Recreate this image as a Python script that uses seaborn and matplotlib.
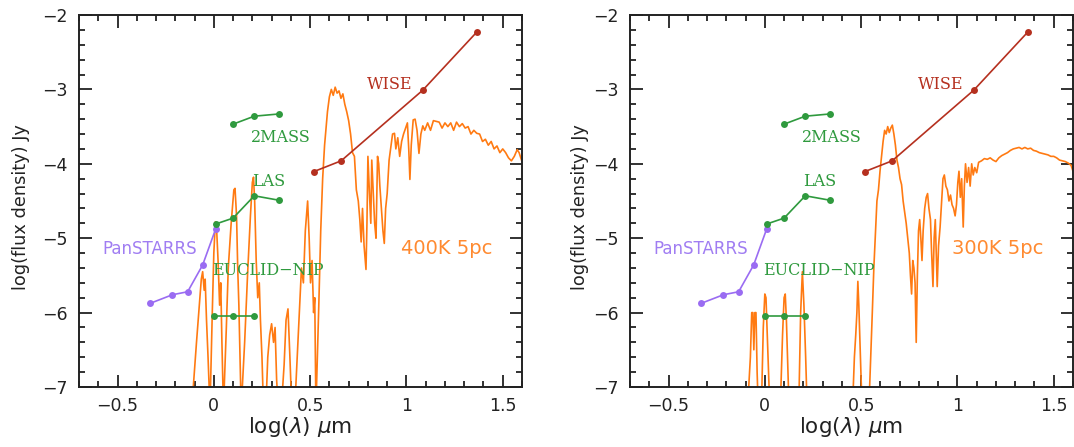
import numpy as np
import pandas as pd
import matplotlib
matplotlib.use("Agg")
import matplotlib.pyplot as plt
import seaborn as sns

# ---------------- data ----------------
pan_x = [-0.33, -0.215, -0.136, -0.058, 0.009]
pan_y = [-5.875, -5.76, -5.72, -5.36, -4.88]

las_x = [0.009, 0.10, 0.21, 0.339]
las_y = [-4.81, -4.73, -4.43, -4.49]

tmass_x = [0.097, 0.21, 0.339]
tmass_y = [-3.47, -3.36, -3.33]

euclid_x = [0.0, 0.10, 0.21]
euclid_y = [-6.04, -6.04, -6.04]

wise_x = [0.518, 0.661, 1.085, 1.365]
wise_y = [-4.106, -3.96, -3.01, -2.23]

# 400 K model spectrum (left panel)
spec400_x = [-0.115, -0.09, -0.075, -0.065, -0.058, -0.05, -0.045, -0.038, -0.03, -0.02,
             -0.008, 0.0, 0.008, 0.014, 0.022, 0.03, 0.036, 0.042, 0.05, 0.065,
             0.075, 0.09, 0.104, 0.11, 0.118, 0.124, 0.13, 0.135, 0.142, 0.16,
             0.175, 0.19, 0.2, 0.206, 0.212, 0.22, 0.228, 0.236, 0.242, 0.25,
             0.258, 0.27, 0.28, 0.29, 0.3, 0.31, 0.318, 0.326, 0.335, 0.35,
             0.365, 0.375, 0.385, 0.395, 0.405, 0.42, 0.44, 0.455, 0.465, 0.475,
             0.487, 0.495, 0.502, 0.51, 0.518, 0.524, 0.53, 0.545, 0.555, 0.565,
             0.575, 0.59, 0.6, 0.61, 0.62, 0.63, 0.64, 0.65, 0.66, 0.67,
             0.68, 0.69, 0.7, 0.71, 0.72, 0.73, 0.74, 0.75, 0.758, 0.765,
             0.772, 0.78, 0.79, 0.795, 0.8, 0.808, 0.815, 0.82, 0.828, 0.835,
             0.842, 0.85, 0.856, 0.862, 0.87, 0.878, 0.885, 0.892, 0.9, 0.91,
             0.92, 0.928, 0.938, 0.945, 0.955, 0.965, 0.975, 0.985, 0.998, 1.005,
             1.012, 1.018, 1.025, 1.035, 1.045, 1.055, 1.065, 1.075, 1.085, 1.095,
             1.11, 1.125, 1.14, 1.155, 1.17, 1.185, 1.2, 1.215, 1.23, 1.245,
             1.26, 1.275, 1.29, 1.305, 1.32, 1.335, 1.35, 1.365, 1.38, 1.395,
             1.41, 1.425, 1.44, 1.455, 1.47, 1.485, 1.5, 1.515, 1.53, 1.545,
             1.56, 1.575, 1.585, 1.6]
spec400_y = [-7.3, -6.4, -5.9, -5.55, -5.45, -5.7, -5.55, -6.1, -6.6, -7.3,
             -6.0, -5.2, -4.78, -4.85, -5.3, -5.9, -5.6, -6.4, -7.3, -6.2,
             -5.4, -4.8, -4.35, -4.33, -4.7, -5.4, -5.9, -6.5, -7.3, -6.4,
             -5.5, -4.7, -4.25, -4.18, -4.5, -5.3, -5.8, -5.6, -6.1, -6.6,
             -7.3, -7.3, -6.6, -6.3, -6.15, -6.4, -6.2, -6.9, -7.3, -7.3,
             -6.7, -6.1, -5.95, -6.6, -7.3, -7.3, -6.2, -5.4, -5.6, -4.9,
             -4.5, -5.0, -5.6, -5.3, -6.0, -5.8, -7.3, -5.9, -4.9, -4.2,
             -3.75, -3.3, -3.1, -3.0, -3.08, -2.97, -3.05, -3.02, -3.12, -3.06,
             -3.2, -3.3, -3.42, -3.6, -3.85, -3.9, -4.35, -4.5, -4.75, -5.05,
             -4.6, -5.1, -5.42, -4.8, -3.9, -4.4, -4.8, -3.95, -4.4, -4.8,
             -5.0, -3.9, -4.0, -4.3, -4.6, -4.9, -5.07, -4.6, -4.4, -3.95,
             -3.75, -3.6, -3.59, -3.8, -3.65, -3.9, -3.7, -3.6, -3.5, -3.45,
             -3.8, -4.21, -3.75, -3.41, -3.4, -3.55, -3.86, -3.6, -3.49, -3.55,
             -3.45, -3.55, -3.42, -3.43, -3.44, -3.52, -3.45, -3.5, -3.45, -3.55,
             -3.44, -3.5, -3.46, -3.52, -3.5, -3.6, -3.55, -3.59, -3.6, -3.7,
             -3.67, -3.75, -3.7, -3.8, -3.76, -3.85, -3.8, -3.85, -3.92, -3.96,
             -3.9, -3.81, -3.85, -3.97]

# 300 K model spectrum (right panel)
spec300_x = [-0.09, -0.075, -0.068, -0.062, -0.057, -0.052, -0.046, -0.04, -0.034, -0.018,
             -0.008, 0.0, 0.006, 0.014, 0.022, 0.028, 0.08, 0.092, 0.1, 0.106,
             0.112, 0.12, 0.126, 0.176, 0.186, 0.195, 0.203, 0.212, 0.22, 0.455,
             0.465, 0.472, 0.478, 0.483, 0.488, 0.494, 0.5, 0.506, 0.54, 0.55,
             0.558, 0.566, 0.575, 0.582, 0.59, 0.598, 0.606, 0.614, 0.622, 0.63,
             0.638, 0.646, 0.654, 0.662, 0.67, 0.678, 0.686, 0.694, 0.702, 0.71,
             0.718, 0.726, 0.734, 0.742, 0.75, 0.756, 0.762, 0.768, 0.774, 0.78,
             0.786, 0.792, 0.798, 0.804, 0.81, 0.816, 0.822, 0.83, 0.838, 0.845,
             0.852, 0.86, 0.866, 0.873, 0.879, 0.885, 0.89, 0.895, 0.902, 0.91,
             0.918, 0.925, 0.932, 0.94, 0.948, 0.956, 0.964, 0.972, 0.98, 0.988,
             0.995, 1.002, 1.008, 1.015, 1.022, 1.03, 1.036, 1.042, 1.05, 1.058,
             1.066, 1.074, 1.082, 1.09, 1.1, 1.11, 1.125, 1.14, 1.155, 1.17,
             1.185, 1.2, 1.215, 1.23, 1.245, 1.26, 1.275, 1.29, 1.305, 1.32,
             1.335, 1.35, 1.365, 1.38, 1.395, 1.41, 1.425, 1.44, 1.455, 1.47,
             1.485, 1.5, 1.515, 1.53, 1.545, 1.56, 1.575, 1.59, 1.6]
spec300_y = [-7.3, -6.6, -6.0, -6.0, -6.5, -6.0, -6.0, -6.8, -7.3, -7.3,
             -6.2, -5.75, -5.8, -6.4, -7.0, -7.3, -7.3, -6.3, -5.8, -5.75,
             -6.1, -6.8, -7.3, -7.3, -6.0, -5.45, -5.9, -6.6, -7.3, -7.3,
             -6.6, -6.3, -6.0, -5.58, -5.9, -6.4, -6.9, -7.3, -7.3, -6.6,
             -6.0, -5.4, -4.9, -4.5, -4.35, -4.1, -3.9, -3.7, -3.55, -3.6,
             -3.5, -3.58, -3.52, -3.48, -3.6, -3.75, -3.95, -4.05, -4.2, -4.28,
             -4.5, -4.65, -4.8, -5.0, -5.2, -5.5, -5.75, -5.3, -5.4, -5.6,
             -6.4, -5.5, -4.9, -4.75, -5.0, -5.3, -4.9, -4.6, -4.45, -4.4,
             -4.6, -4.75, -5.2, -5.65, -5.0, -4.75, -5.2, -5.65, -5.1, -4.85,
             -4.5, -4.2, -4.15, -4.3, -4.35, -4.5, -4.42, -4.55, -4.6, -4.7,
             -4.55, -4.25, -4.1, -4.45, -4.2, -4.85, -4.3, -4.0, -4.25, -4.05,
             -4.3, -4.0, -4.15, -4.05, -4.12, -3.98, -3.96, -3.93, -3.94, -3.92,
             -3.95, -3.97, -3.92, -3.89, -3.87, -3.85, -3.82, -3.8, -3.79, -3.78,
             -3.8, -3.78, -3.8, -3.79, -3.82, -3.83, -3.85, -3.86, -3.87, -3.88,
             -3.9, -3.9, -3.92, -3.95, -3.96, -3.97, -3.99, -4.02, -4.1]

panel_labels = ["400K 5pc", "300K 5pc"]
x_ticks = [-0.5, 0, 0.5, 1, 1.5]
x_ticklabels = ["\u22120.5", "0", "0.5", "1", "1.5"]
y_ticks = [-7, -6, -5, -4, -3, -2]
y_ticklabels = ["\u22127", "\u22126", "\u22125", "\u22124", "\u22123", "\u22122"]

# ---------------- style ----------------
sns.set_style("ticks")
plt.rcParams["font.family"] = ["DejaVu Sans"]

C_PAN = "#9a6cf2"
C_GRN = "#2f9a3e"
C_WISE = "#b5301f"
C_SPEC = "#ff7a12"

fig = plt.figure(figsize=(10.74, 4.47), dpi=100)
ax_l = fig.add_axes([79 / 1074, 1 - 387 / 447, 443 / 1074, 372 / 447])
ax_r = fig.add_axes([630 / 1074, 1 - 387 / 447, 443 / 1074, 372 / 447])

spectra = [(spec400_x, spec400_y), (spec300_x, spec300_y)]
ylabel_x = [-0.111, -0.093]

for ax, (sx, sy), plab, ylx in zip([ax_l, ax_r], spectra, panel_labels, ylabel_x):
    df_spec = pd.DataFrame({"x": sx, "y": sy})
    sns.lineplot(data=df_spec, x="x", y="y", ax=ax, color=C_SPEC, lw=1.2,
                 estimator=None, sort=False)

    series = [(pan_x, pan_y, C_PAN), (las_x, las_y, C_GRN), (tmass_x, tmass_y, C_GRN),
              (euclid_x, euclid_y, C_GRN), (wise_x, wise_y, C_WISE)]
    for xs, ys, c in series:
        d = pd.DataFrame({"x": xs, "y": ys})
        sns.lineplot(data=d, x="x", y="y", ax=ax, color=c, lw=1.2, marker="o",
                     markersize=5, markeredgewidth=0, estimator=None, sort=False)

    ax.set_xlim(-0.7, 1.6)
    ax.set_ylim(-7, -2)
    ax.set_xticks(x_ticks)
    ax.set_xticklabels(x_ticklabels)
    ax.set_yticks(y_ticks)
    ax.set_yticklabels(y_ticklabels)
    ax.xaxis.set_minor_locator(matplotlib.ticker.MultipleLocator(0.1))
    ax.yaxis.set_minor_locator(matplotlib.ticker.MultipleLocator(0.2))
    ax.tick_params(which="both", direction="in", top=True, right=True,
                   width=1.3, color="#222222", labelsize=12.5, labelcolor="#222222")
    ax.tick_params(which="major", length=9, pad=8)
    ax.tick_params(which="minor", length=4.5)
    ax.tick_params(axis="x", which="major", pad=7)
    for s in ax.spines.values():
        s.set_visible(True)
        s.set_linewidth(1.4)
        s.set_color("#222222")

    ax.set_xlabel(r"log($\lambda$) $\mu$m", fontsize=15.5, color="#222222")
    ax.set_ylabel("log(flux density) Jy", fontsize=12.8, color="#222222")
    ax.xaxis.set_label_coords(0.5, -0.075)
    ax.yaxis.set_label_coords(ylx, 0.484)

    serif = ["DejaVu Serif"]
    ax.text(0.912, -2.94, "WISE", color=C_WISE, fontsize=11.5, family=serif,
            ha="center", va="center")
    ax.text(0.35, -3.64, "2MASS", color=C_GRN, fontsize=11.5, family=serif,
            ha="center", va="center")
    ax.text(0.285, -4.24, "LAS", color=C_GRN, fontsize=11.5, family=serif,
            ha="center", va="center")
    ax.text(0.28, -5.43, "EUCLID\u2212NIP", color=C_GRN, fontsize=11.5, family=serif,
            ha="center", va="center")
    ax.text(-0.335, -5.14, "PanSTARRS", color="#a07df2", fontsize=12,
            ha="center", va="center")
    ax.text(1.21, -5.14, plab, color="#ff8a30", fontsize=14,
            ha="center", va="center")

fig.savefig("out.png", dpi=100)
